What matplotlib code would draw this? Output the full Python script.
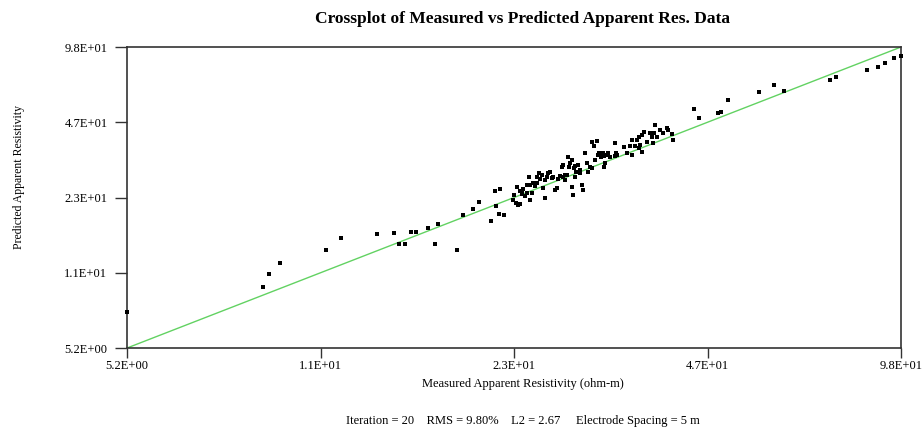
import numpy as np
from matplotlib import pyplot as plt

plt.rcParams["font.family"] = ["Liberation Serif", "DejaVu Serif"]

# Measured vs predicted apparent resistivity (ohm-m), read from the crossplot
measured = [
    5.2, 8.7, 8.9, 9.3, 11.05, 11.7, 13.4, 14.3, 14.6, 14.95,
    15.3, 15.55, 16.3, 16.75, 16.9, 18.2, 18.6, 19.35, 19.8, 20.7,
    21.1, 21.3, 21.7, 21.0, 21.4, 22.5, 22.6, 22.75, 22.9, 22.8,
    23.1, 23.3, 23.4, 23.5, 23.7, 23.75, 23.9, 24.0, 24.15, 24.3,
    24.45, 24.6, 24.8, 24.9, 25.1, 25.2, 25.4, 25.6, 25.7, 25.4,
    25.9, 26.05, 26.2, 26.4, 26.55, 26.7, 26.9, 27.1, 27.2, 27.4,
    27.6, 27.7, 27.85, 28.1, 28.3, 28.5, 28.1, 28.2, 28.6, 28.8,
    29.0, 29.2, 29.3, 29.6, 29.75, 29.9, 30.1, 30.3, 30.4, 30.6,
    30.9, 30.7, 31.0, 31.2, 31.4, 31.6, 31.8, 32.0, 32.3, 32.5,
    33.1, 33.25, 33.4, 34.6, 35.1, 35.3, 35.7, 36.0, 36.2, 36.4,
    36.65, 36.9, 36.7, 37.35, 37.8, 38.1, 38.55, 38.8, 39.3, 39.8,
    40.3, 40.55, 41.1, 41.2, 44.7, 45.5, 49.0, 49.5, 50.75, 57.2,
    60.6, 62.8, 74.8, 76.6, 86.1, 89.7, 92.1, 95.3, 97.9,
    33.1, 34.3, 35.3, 36.3, 38.45, 27.9, 28.5, 38.3, 24.0, 23.25,
    23.1, 24.6, 27.4, 27.2, 29.0, 31.9, 31.7,
]
predicted = [
    7.4, 9.4, 10.7, 11.9, 13.5, 15.2, 15.8, 16.0, 14.3, 14.3,
    16.2, 16.1, 16.8, 14.3, 17.4, 13.5, 19.0, 20.1, 21.65, 17.9,
    20.8, 19.3, 19.0, 24.1, 24.5, 22.0, 23.1, 21.5, 20.9, 25.1,
    24.1, 23.4, 24.5, 22.8, 25.5, 23.5, 27.5, 22.0, 23.5, 25.9,
    25.3, 26.1, 28.8, 27.0, 28.1, 24.7, 26.8, 27.7, 28.6, 22.4,
    29.0, 27.2, 27.7, 24.3, 24.7, 27.0, 27.85, 30.5, 27.7, 26.8,
    28.1, 33.6, 30.5, 32.55, 30.0, 27.7, 24.9, 23.1, 29.0, 31.0,
    29.5, 25.5, 24.3, 34.75, 31.5, 29.0, 30.5, 30.0, 38.9, 37.3,
    39.3, 32.55, 34.2, 35.0, 33.6, 34.75, 30.3, 34.2, 34.75, 33.6,
    38.3, 34.75, 34.2, 34.75, 37.3, 39.6, 37.3, 39.6, 36.5, 37.7,
    41.5, 42.9, 35.3, 38.9, 42.2, 40.9, 45.8, 40.9, 43.6, 42.2,
    44.35, 43.6, 41.95, 39.6, 53.7, 48.9, 51.3, 52.0, 58.2, 62.9,
    67.5, 63.6, 71.3, 72.9, 78.2, 81.0, 83.9, 88.3, 90.1,
    33.85, 36.8, 34.2, 40.6, 42.2, 31.5, 30.7, 38.3, 25.5, 23.9,
    21.2, 27.7, 28.1, 31.0, 28.6, 31.7, 33.85,
]

axis_range = [5.2, 98.0]
tick_labels = ["5.2E+00", "1.1E+01", "2.3E+01", "4.7E+01", "9.8E+01"]
footer = "Iteration = 20    RMS = 9.80%    L2 = 2.67     Electrode Spacing = 5 m"

fig = plt.figure(figsize=(9.23, 4.32), dpi=100)
ax = fig.add_axes([0.1376, 0.1944, 0.8386, 0.6968])

# 1:1 reference line
ax.plot(axis_range, axis_range, color="#62d262", lw=1.0, zorder=2)
ax.plot(measured, predicted, "s", color="black", ms=2.4, mew=0,
        clip_on=False, zorder=3)

ax.set_xscale("log")
ax.set_yscale("log")
ax.set_xlim(axis_range)
ax.set_ylim(axis_range)
ticks = np.geomspace(axis_range[0], axis_range[1], len(tick_labels))
ax.set_xticks(ticks, tick_labels)
ax.set_yticks(ticks, tick_labels)
ax.minorticks_off()
ax.tick_params(direction="out", width=1, color="#333333", labelsize=9)
ax.tick_params(axis="y", length=8.6, pad=5.5)
ax.tick_params(axis="x", length=7, pad=1.5)

for s in ax.spines.values():
    s.set_color("#333333")
    s.set_linewidth(1.2)

fig.text(0.566, 0.956, "Crossplot of Measured vs Predicted Apparent Res. Data",
         ha="center", va="center", fontsize=12.5, fontweight="bold")
fig.text(0.566, 0.111, "Measured Apparent Resistivity (ohm-m)",
         ha="center", va="center", fontsize=9)
fig.text(0.021, 0.59, "Predicted Apparent Resistivity", rotation=90,
         ha="center", va="center", fontsize=8.5)
fig.text(0.566, 0.026, footer, ha="center", va="center", fontsize=9)

fig.savefig("out.png", dpi=100)
